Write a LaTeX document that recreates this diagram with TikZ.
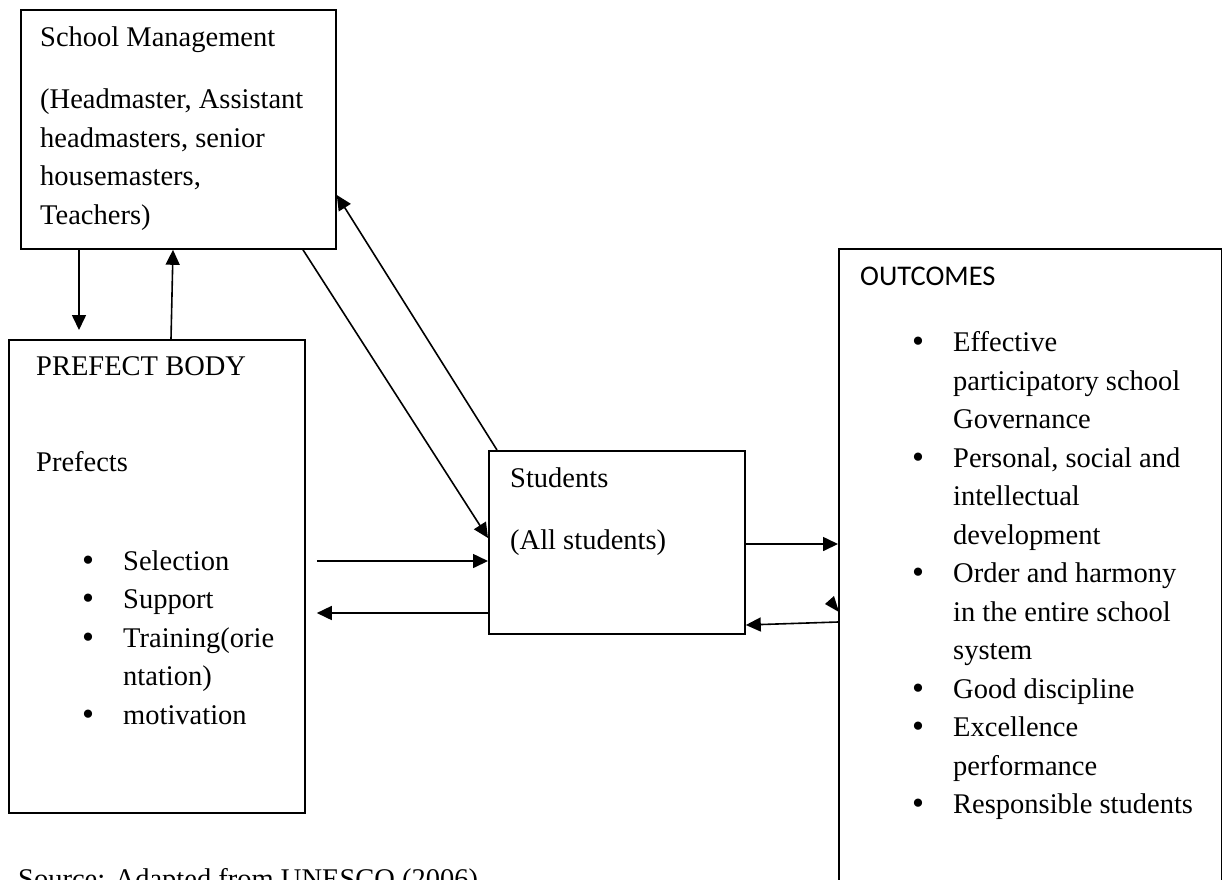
\documentclass[tikz,border=0pt]{standalone}
\usepackage{fontspec}
\setmainfont{Liberation Serif}
\newfontfamily\calibri{Carlito}
\usetikzlibrary{arrows.meta, positioning, calc}
\tikzset{
    box/.style={rectangle, draw=black, line width=1.8pt, anchor=north west, inner sep=0pt},
    txt/.style={anchor=north west, align=left, inner sep=0pt, font=\fontsize{28.5}{38.5}\selectfont},
    arrow/.style={-{Triangle[length=15pt, width=14pt]}, line width=1.6pt}
}
\newcommand{\blt}{\makebox[41pt][l]{\raisebox{-1pt}{\scalebox{1.2}{\textbullet}}}}
\newcommand{\cnt}{\hspace*{41pt}}

\begin{document}
\begin{tikzpicture}[x=1pt, y=-1pt]
  \useasboundingbox (0,0) rectangle (1222,879);
  \clip (0,0) rectangle (1222,879);
  % boxes
  \node[box, minimum width=315pt, minimum height=239pt] (sm) at (20,9) {};
  \node[box, minimum width=296pt, minimum height=473pt] (pb) at (8,339) {};
  \node[box, minimum width=256pt, minimum height=183pt] (st) at (488,450) {};
  \node[box, minimum width=383pt, minimum height=700pt] (oc) at (838,248) {};
  % texts (top of each = first baseline - 27)
  \node[txt] (smtext) at (40,19) {\strut School Management\\[24pt]
    (Headmaster, Assistant\\headmasters, senior\\housemasters,\\Teachers)};
  \node[txt] (pbtext) at (36,348) {\strut PREFECT BODY\\[58pt]
    Prefects\\[60pt]
    \hspace*{46pt}\blt Selection\\
    \hspace*{46pt}\blt Support\\
    \hspace*{46pt}\blt Training(orie\\
    \hspace*{46pt}\cnt ntation)\\
    \hspace*{46pt}\blt motivation};
  \node[txt] (sttext) at (510,460) {\strut Students\\[24pt](All students)};
  \node[txt] (octext) at (860,258) {\strut{\calibri OUTCOMES}\\[28pt]
    \hspace*{52pt}\blt Effective\\
    \hspace*{52pt}\cnt participatory school\\
    \hspace*{52pt}\cnt Governance\\
    \hspace*{52pt}\blt Personal, social and\\
    \hspace*{52pt}\cnt intellectual\\
    \hspace*{52pt}\cnt development\\
    \hspace*{52pt}\blt Order and harmony\\
    \hspace*{52pt}\cnt in the entire school\\
    \hspace*{52pt}\cnt system\\
    \hspace*{52pt}\blt Good discipline\\
    \hspace*{52pt}\blt Excellence\\
    \hspace*{52pt}\cnt performance\\
    \hspace*{52pt}\blt Responsible students};
  \node[txt, anchor=base west] (source) at (18,888) {Source: Adapted from UNESCO (2006)};
  % connectors
  \draw[arrow, shorten >=9pt] (79,0 |- sm.south) -- (79,0 |- pb.north);
  \draw[arrow] (171,0 |- pb.north) -- (173,0 |- sm.south);
  \draw[arrow] (303,0 |- sm.south) -- (st.west |- 0,538);
  \draw[arrow] (497,0 |- st.north) -- (sm.east |- 0,195);
  \draw[arrow, shorten <=11pt] (pb.east |- 0,561) -- (st.west |- 0,561);
  \draw[arrow, shorten >=11pt] (st.west |- 0,613) -- (pb.east |- 0,613);
  \draw[arrow] (st.east |- 0,544) -- (oc.west |- 0,544);
  \draw[arrow] (oc.west |- 0,622) -- (st.east |- 0,625);
  \fill (825,604) -- (834,596) -- (839,612) -- cycle;
\end{tikzpicture}
\end{document}
